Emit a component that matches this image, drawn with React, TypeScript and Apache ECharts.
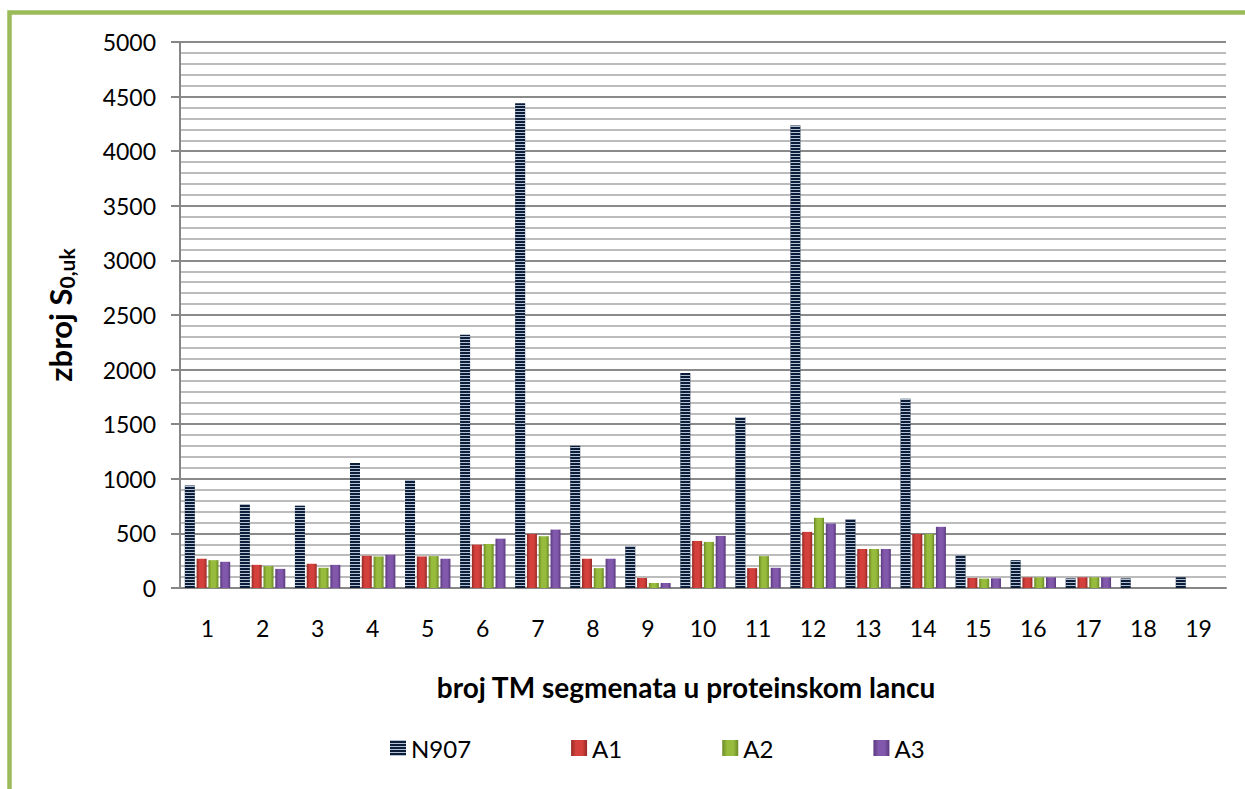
import React, { useEffect, useRef } from "react";
import * as echarts from "echarts";

const categories = ["1", "2", "3", "4", "5", "6", "7", "8", "9", "10", "11", "12", "13", "14", "15", "16", "17", "18", "19"];
const seriesNames = ["N907", "A1", "A2", "A3"];
const n907 = [938, 763, 754, 1145, 988, 2320, 4440, 1302, 385, 1970, 1566, 4235, 628, 1732, 298, 255, 88, 88, 98];
const a1 = [268, 212, 222, 295, 289, 397, 495, 268, 92, 431, 182, 514, 357, 495, 92, 98, 98, null, null];
const a2 = [255, 200, 185, 289, 292, 403, 474, 182, 46, 422, 292, 643, 357, 495, 86, 98, 98, null, null];
const a3 = [240, 175, 212, 305, 268, 452, 535, 268, 46, 477, 185, 591, 357, 560, 89, 98, 98, null, null];
const yTicks = { min: 0, max: 5000, interval: 500 };

const FONT = "Lato, 'Open Sans', sans-serif";

function grad(edge: string, mid: string) {
  return new echarts.graphic.LinearGradient(1, 0, 0, 0, [
    { offset: 0, color: edge },
    { offset: 0.3, color: mid },
    { offset: 0.7, color: mid },
    { offset: 1, color: edge },
  ]);
}

export default function App() {
  const ref = useRef<HTMLDivElement>(null);
  useEffect(() => {
    const chart = echarts.init(ref.current as HTMLDivElement, null, { renderer: "svg" });
    const barCommon = { type: "bar", barWidth: 10, barGap: "18%" };
    chart.setOption({
      animation: false,
      backgroundColor: "#ffffff",
      grid: { left: 180, right: 19, top: 42, bottom: 201, containLabel: false },
      legend: {
        data: seriesNames,
        left: 385,
        top: 731,
        itemWidth: 16,
        itemHeight: 16,
        itemGap: 100,
        icon: "rect",
        textStyle: { fontFamily: FONT, fontSize: 24, color: "#000" },
      },
      xAxis: {
        type: "category",
        data: categories,
        name: "broj TM segmenata u proteinskom lancu",
        nameLocation: "middle",
        nameGap: 85,
        nameTextStyle: { fontFamily: FONT, fontSize: 28, fontWeight: "bold", color: "#000", padding: [0, 34, 0, 0] },
        axisLine: { lineStyle: { color: "#868686", width: 2 } },
        axisTick: { show: false },
        axisLabel: { fontFamily: FONT, fontSize: 23, color: "#000", margin: 28 },
      },
      yAxis: {
        type: "value",
        min: yTicks.min,
        max: yTicks.max,
        interval: yTicks.interval,
        name: "{a|zbroj S}{b|0,uk}",
        nameLocation: "middle",
        nameRotate: 90,
        nameGap: 103,
        nameTextStyle: {
          rich: {
            a: { fontFamily: FONT, fontSize: 31, fontWeight: "bold", color: "#000", lineHeight: 34 },
            b: { fontFamily: FONT, fontSize: 21, fontWeight: "bold", color: "#000", lineHeight: 12, verticalAlign: "bottom" },
          },
        },
        axisLine: { show: true, lineStyle: { color: "#868686", width: 2 } },
        axisTick: { show: true, length: 9, lineStyle: { color: "#868686", width: 2 } },
        axisLabel: { fontFamily: FONT, fontSize: 23, color: "#000", margin: 24, formatter: (v: number) => String(v) },
        splitLine: { lineStyle: { color: "#8a8a8a", width: 2 } },
        minorTick: { show: false, splitNumber: 5 },
        minorSplitLine: { show: true, lineStyle: { color: "#bcbcbc", width: 2 } },
      },
      graphic: [
        {
          type: "rect",
          silent: true,
          z: 100,
          shape: { x: 9.5, y: 12.5, width: 1400, height: 1000 },
          style: { fill: "none", stroke: "#9bbb59", lineWidth: 4.5 },
        },
      ],
      series: [
        {
          ...barCommon,
          name: "N907",
          data: n907,
          itemStyle: {
            color: "#0b1d38",
            decal: {
              symbol: "rect",
              symbolSize: 1,
              dashArrayX: [1, 0],
              dashArrayY: [1, 2],
              rotation: 0,
              color: "#b4c2d4",
            },
          },
        },
        { ...barCommon, name: "A1", data: a1, itemStyle: { color: grad("#962a26", "#d4413c") } },
        { ...barCommon, name: "A2", data: a2, itemStyle: { color: grad("#6b8a26", "#97bb3c") } },
        { ...barCommon, name: "A3", data: a3, itemStyle: { color: grad("#5a3a7e", "#8158ab") } },
      ],
    });
    return () => chart.dispose();
  }, []);
  return <div ref={ref} style={{ position: "absolute", left: 0, top: 0, width: 1245, height: 789 }} />;
}
